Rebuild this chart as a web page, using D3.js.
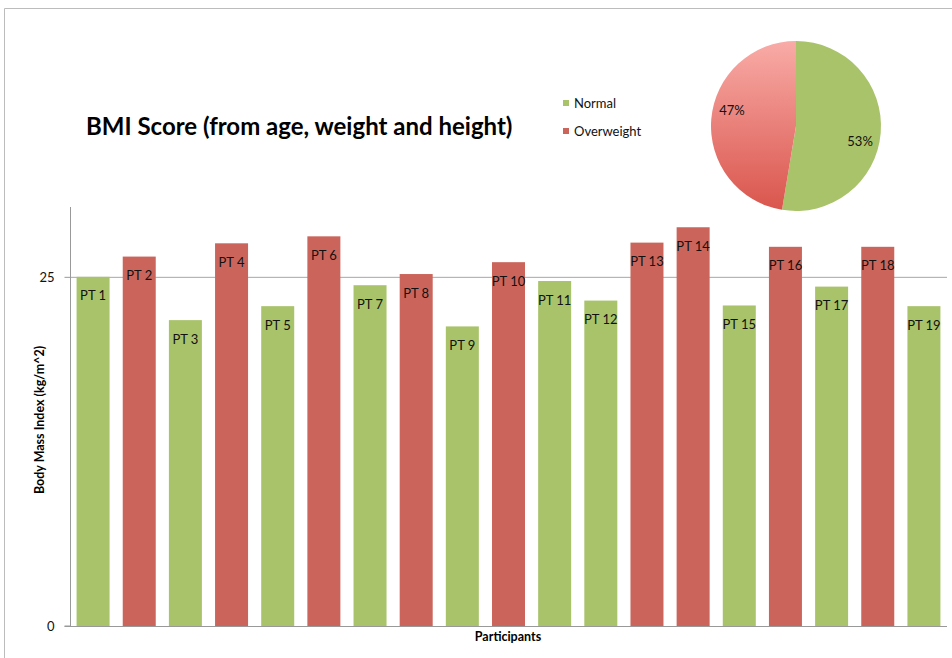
<!DOCTYPE html>
<html>
<head>
<meta charset="utf-8">
<script src="https://cdn.jsdelivr.net/npm/d3@7"></script>
<style>
  body { margin: 0; background: #fff; }
  svg { display: block; font-family: Lato, "Open Sans", sans-serif; }
</style>
</head>
<body>
<div id="chart"></div>
<script>
// participants and their BMI values
var participants = ["PT 1", "PT 2", "PT 3", "PT 4", "PT 5", "PT 6", "PT 7", "PT 8", "PT 9", "PT 10",
  "PT 11", "PT 12", "PT 13", "PT 14", "PT 15", "PT 16", "PT 17", "PT 18", "PT 19"];
var bmi = [25.0, 26.45, 21.9, 27.4, 22.9, 27.9, 24.4, 25.2, 21.45, 26.05,
  24.7, 23.3, 27.45, 28.55, 22.95, 27.15, 24.3, 27.15, 22.9];
var bmiClass = ["Normal", "Overweight", "Normal", "Overweight", "Normal", "Overweight", "Normal", "Overweight", "Normal", "Overweight",
  "Normal", "Normal", "Overweight", "Overweight", "Normal", "Overweight", "Normal", "Overweight", "Normal"];
var groups = ["Normal", "Overweight"];
var yTicks = [0, 25];

var width = 952,
  height = 658;

var color = { Normal: "#a9c36a", Overweight: "#cb655b" };

var svg = d3
  .select("#chart")
  .append("svg")
  .attr("width", width)
  .attr("height", height);

// outer frame
svg.append("path")
  .attr("d", "M4.5," + height + "V8.5H" + width)
  .attr("fill", "none")
  .attr("stroke", "#bcbcbc");

var x = d3.scaleBand()
  .domain(participants)
  .range([70, 947])
  .paddingInner(0.285)
  .paddingOuter(0.1425);

var y = d3.scaleLinear().domain([0, 30]).range([626, 207]);

// gridline at 25
svg.selectAll(".grid")
  .data(yTicks.filter(function(d) { return d > 0; }))
  .enter()
  .append("line")
  .attr("x1", 70)
  .attr("x2", 947)
  .attr("y1", function(d) { return y(d) + 0.5; })
  .attr("y2", function(d) { return y(d) + 0.5; })
  .attr("stroke", "#a6a6a6");

// bars
svg.selectAll(".bar")
  .data(participants)
  .enter()
  .append("rect")
  .attr("x", function(d) { return x(d); })
  .attr("y", function(d, i) { return y(bmi[i]); })
  .attr("width", x.bandwidth())
  .attr("height", function(d, i) { return y(0) - y(bmi[i]); })
  .attr("fill", function(d, i) { return color[bmiClass[i]]; });

svg.selectAll(".barlabel")
  .data(participants)
  .enter()
  .append("text")
  .attr("x", function(d) { return x(d) + x.bandwidth() / 2; })
  .attr("y", function(d, i) { return y(bmi[i]) + 19; })
  .attr("dy", "0.35em")
  .attr("text-anchor", "middle")
  .style("font-size", "13px")
  .style("fill", "#111")
  .text(function(d) { return d; });

// axes
var yAxis = svg.append("g")
  .attr("transform", "translate(70.5,0)")
  .call(d3.axisLeft(y).tickValues(yTicks).tickSize(6).tickPadding(10).tickFormat(d3.format("d")));
yAxis.select(".domain").attr("stroke", "#999").attr("d", "M-6," + y(0) + "H0V" + y(30));
yAxis.selectAll(".tick line").attr("stroke", "#999");
yAxis.selectAll(".tick text").style("font-size", "13px").style("fill", "#111").style("font-family", "Lato, sans-serif");

svg.append("line")
  .attr("x1", 70)
  .attr("x2", 947)
  .attr("y1", y(0) + 0.5)
  .attr("y2", y(0) + 0.5)
  .attr("stroke", "#999");

svg.append("text")
  .attr("x", 508)
  .attr("y", 641)
  .attr("text-anchor", "middle")
  .style("font-size", "12.5px")
  .style("font-weight", "bold")
  .text("Participants");

svg.append("text")
  .attr("transform", "translate(44,420) rotate(-90)")
  .attr("text-anchor", "middle")
  .style("font-size", "12.5px")
  .style("font-weight", "bold")
  .text("Body Mass Index (kg/m^2)");

// title
svg.append("text")
  .attr("x", 86)
  .attr("y", 135)
  .style("font-size", "24px")
  .style("font-weight", "bold")
  .text("BMI Score (from age, weight and height)");

// legend
var legend = svg.selectAll(".legend")
  .data(groups)
  .enter()
  .append("g")
  .attr("transform", function(d, i) { return "translate(563," + (103 + i * 28) + ")"; });
legend.append("rect")
  .attr("x", 0)
  .attr("y", -3)
  .attr("width", 6)
  .attr("height", 6)
  .attr("fill", function(d) { return color[d]; });
legend.append("text")
  .attr("x", 11)
  .attr("dy", "0.35em")
  .style("font-size", "13px")
  .style("fill", "#111")
  .text(function(d) { return d; });

// pie of the two groups
var counts = groups.map(function(g) {
  return bmiClass.filter(function(s) { return s === g; }).length;
});
var total = d3.sum(counts);

var defs = svg.append("defs");
var grad = defs.append("linearGradient")
  .attr("id", "overGrad")
  .attr("gradientUnits", "userSpaceOnUse")
  .attr("x1", 0).attr("y1", -85)
  .attr("x2", 0).attr("y2", 85);
grad.append("stop").attr("offset", "0%").attr("stop-color", "#f9aba7");
grad.append("stop").attr("offset", "100%").attr("stop-color", "#d9554c");

var pie = d3.pie().sort(null);
var arc = d3.arc().innerRadius(0).outerRadius(85);
// labels sit a bit clockwise of the slice middle, as in the original
var labelArc = d3.arc().innerRadius(66).outerRadius(66);

var pieG = svg.append("g").attr("transform", "translate(796,126)");
var slices = pie(counts);
pieG.selectAll("path")
  .data(slices)
  .enter()
  .append("path")
  .attr("d", arc)
  .attr("fill", function(d, i) { return i === 0 ? "#a9c36a" : "url(#overGrad)"; });

pieG.selectAll("text")
  .data(slices)
  .enter()
  .append("text")
  .attr("transform", function(d) {
    var c = labelArc.centroid({ startAngle: d.startAngle + 0.16, endAngle: d.endAngle + 0.16 });
    return "translate(" + c[0] + "," + c[1] + ")";
  })
  .attr("dy", "0.35em")
  .attr("text-anchor", "middle")
  .style("font-size", "13px")
  .style("fill", "#111")
  .text(function(d) { return Math.round(d.value / total * 100) + "%"; });
</script>
</body>
</html>
